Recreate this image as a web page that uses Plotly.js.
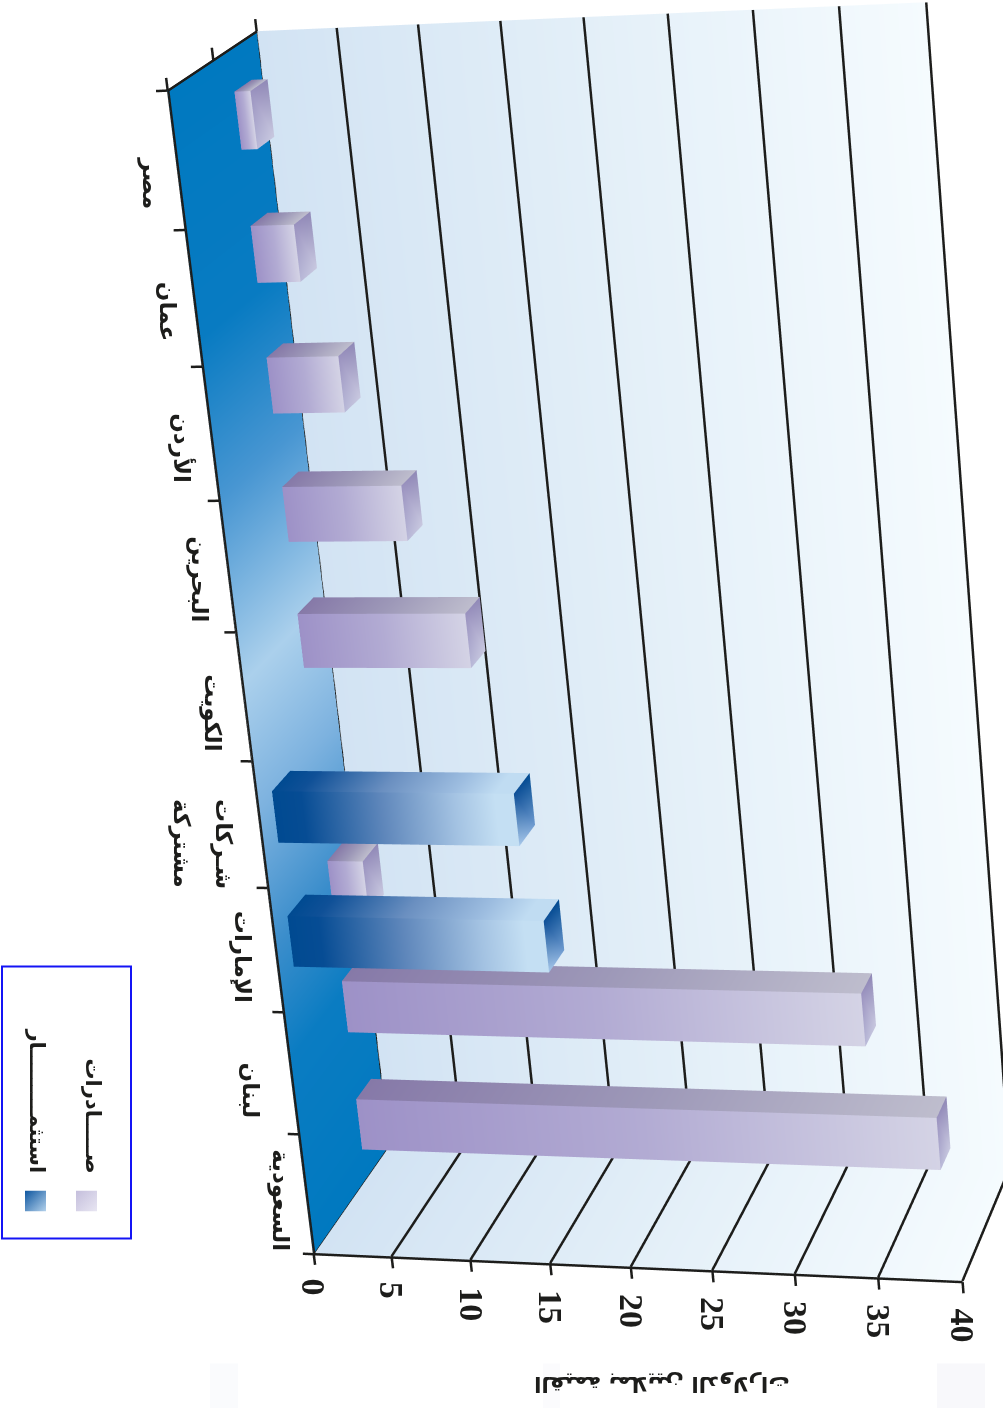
<!DOCTYPE html>
<html lang="ar">
<head>
<meta charset="utf-8">
<script src="https://cdn.plot.ly/plotly-3.0.1.min.js"></script>
<style>
html,body{margin:0;padding:0;width:1003px;height:1408px;overflow:hidden;background:#fff}
#chart{position:absolute;left:-114px;top:-1285.5px;width:1118px;height:3855px}
</style>
</head>
<body>
<div id="chart"></div>
<script>
// ---------- data ----------
const categories = ['مصر','عمان','الأردن','البحرين','الكويت','شـركات<br>مشتركة','الإمارات','لبنان','السعودية'];
const exportsValues = [1.0, 2.7, 4.5, 7.5, 10.6, 0, 2.3, 32.8, 36.8];   // صادرات
const investValues  = [0, 0, 0, 0, 0, 15.0, 16.0, 0, 0];                // استثمار
const valueTicks = [0,5,10,15,20,25,30,35,40];
const seriesNames = ['صـــــادرات','استثمـــــــــار'];
const axisTitle = 'القيمة بملايين الدولارات';

// ---------- styles ----------
const purpleFront = [[0,'#9d91c7'],[0.5,'#b2abd3'],[1,'#d4d3e5']];
const purpleSide  = [[0,'#8679a8'],[0.5,'#9d98b8'],[1,'#bebdcd']];
const blueFront   = [[0,'#004a91'],[0.12,'#064c94'],[0.45,'#5f87bb'],[0.75,'#a3c2e2'],[0.92,'#c4dff3'],[1,'#c4dff3']];
const blueSide    = [[0,'#004a91'],[0.12,'#0f5097'],[0.45,'#6a8fc0'],[0.75,'#9dbde0'],[0.92,'#c0dcf2'],[1,'#c0dcf2']];
const wallStops   = [[0,'#d2e3f3'],[0.5,'#e3eff8'],[1,'#f5fbfe']];
const floorStops  = [[0,'#0079c0'],[1.8,'#087bc2'],[3,'#4896d2'],[4.4,'#abd0ec'],[5.4,'#7db2df'],[6.5,'#3a8dcb'],[7.4,'#0a7cc2'],[9,'#0079c0']];
const fontAr = '"DejaVu Sans", "Noto Sans", sans-serif';
const fontNum = '"Liberation Serif", serif';
const ink = '#1d1d1b';

// scene geometry
const nCat = categories.length, zMax = 40;
const pxX = 1304/9, pxY = 274, pxZ = 723/40;
const rangeX=[-0.14,9.14], rangeY=[-0.03,1.03], rangeZ=[-1,41];
const purpleRow=[0.68,0.88], blueRow=[0.17,0.39];
const purpleSlot=[0.31,0.74], blueSlot=[0.36,0.77];
const labelNudge=[[4,-11],[5,-2],[2,-3],[2,-2],[-1,-5],[-28,-8],[-3,5],[-10,-6],[4,5]];

// ---------- helpers ----------
function hex(c){return [1,3,5].map(i=>parseInt(c.substr(i,2),16));}
function toHex(a){return '#'+a.map(v=>Math.round(v).toString(16).padStart(2,'0')).join('');}
function lerpCol(stops,t){
  if(t<=stops[0][0]) return stops[0][1];
  for(let i=1;i<stops.length;i++){
    if(t<=stops[i][0]){
      const a=stops[i-1],b=stops[i],u=(t-a[0])/(b[0]-a[0]),A=hex(a[1]),B=hex(b[1]);
      return toHex(A.map((v,k)=>v+(B[k]-v)*u));
    }
  }
  return stops[stops.length-1][1];
}
function newMesh(){return {type:'mesh3d',x:[],y:[],z:[],i:[],j:[],k:[],vertexcolor:[],flatshading:true,
  lighting:{ambient:1,diffuse:0,specular:0,roughness:1,fresnel:0},hoverinfo:'skip',showscale:false};}
function quad(m,p,c){
  const n=m.x.length;
  p.forEach((q,idx)=>{m.x.push(q[0]);m.y.push(q[1]);m.z.push(q[2]);m.vertexcolor.push(c[idx]);});
  m.i.push(n,n);m.j.push(n+1,n+2);m.k.push(n+2,n+3);
}
function bar(m,x0,x1,y0,y1,v,front,side,capCols){
  const ts=front.map(s=>s[0]);
  side.forEach(s=>{if(!ts.includes(s[0]))ts.push(s[0]);});
  ts.sort((a,b)=>a-b);
  for(let n=1;n<ts.length;n++){
    const a=ts[n-1],b=ts[n],za=a*v,zb=b*v;
    quad(m,[[x0,y0,za],[x1,y0,za],[x1,y0,zb],[x0,y0,zb]],[lerpCol(front,a),lerpCol(front,a),lerpCol(front,b),lerpCol(front,b)]);
    quad(m,[[x0,y0,za],[x0,y1,za],[x0,y1,zb],[x0,y0,zb]],[lerpCol(side,a),lerpCol(side,a),lerpCol(side,b),lerpCol(side,b)]);
  }
  quad(m,[[x0,y0,v],[x1,y0,v],[x1,y1,v],[x0,y1,v]],capCols);
}

// ---------- traces ----------
const traces=[];
const walls=newMesh();
wallStops.forEach((s,n)=>{ if(n===0) return;
  const a=wallStops[n-1], za=a[0]*zMax, zb=s[0]*zMax;
  quad(walls,[[0,1,za],[nCat,1,za],[nCat,1,zb],[0,1,zb]],[a[1],a[1],s[1],s[1]]);
  quad(walls,[[nCat,1,za],[nCat,0,za],[nCat,0,zb],[nCat,1,zb]],[a[1],a[1],s[1],s[1]]);
});
floorStops.forEach((s,n)=>{ if(n===0) return;
  const a=floorStops[n-1];
  quad(walls,[[a[0],0,0],[s[0],0,0],[s[0],1,0],[a[0],1,0]],[a[1],s[1],s[1],a[1]]);
});
traces.push(walls);
const bars=newMesh();
exportsValues.forEach((v,i)=>{ if(v>0)
  bar(bars,i+purpleSlot[0],i+purpleSlot[1],purpleRow[0],purpleRow[1],v,purpleFront,purpleSide,
      ['#9a92bf','#b9b9d8','#c9c9e0','#8f88b6']);
});
investValues.forEach((v,i)=>{ if(v>0)
  bar(bars,i+blueSlot[0],i+blueSlot[1],blueRow[0],blueRow[1],v,blueFront,blueSide,
      ['#0f5098','#a8c8ea','#6e9bd0','#004a91']);
});
traces.push(bars);
const lx=[],ly=[],lz=[];
function seg(a,b){lx.push(a[0],b[0],null);ly.push(a[1],b[1],null);lz.push(a[2],b[2],null);}
const eps=0.004;
valueTicks.forEach(v=>{
  if(v>0){
    seg([0,1-eps,v],[nCat,1-eps,v]);
    seg([nCat-0.01,1,v],[nCat-0.01,0,v]);
  }
  seg([nCat,0,v],[nCat+0.09,0,v]);
});
seg([0,0,0.03],[nCat,0,0.03]);
seg([0,1,0.03],[nCat,1,0.03]);
seg([0,0,0.03],[0,1,0.03]);
seg([nCat,0,0.03],[nCat,1,0.03]);
seg([nCat,0,0],[nCat,0,zMax]);
for(let i=0;i<=nCat;i++) seg([i,0,0],[i,0,-0.7]);
[0,0.5,1].forEach(d=>seg([0,d,0],[-0.09,d,0]));
traces.push({type:'scatter3d',mode:'lines',x:lx,y:ly,z:lz,line:{color:ink,width:5},hoverinfo:'skip',showlegend:false,connectgaps:false});

// ---------- camera, from vanishing points ----------
const up=[-0.9418,0.3362,0];
const fwd=[0.3197,0.8957,-0.309];
const dist=4.917;
const target=[-0.027,-0.0415,-0.165];
const cen=[(rangeX[0]+rangeX[1])/2-nCat/2,(rangeY[0]+rangeY[1])/2-0.5,(rangeZ[0]+rangeZ[1])/2-zMax/2];
const scales=[pxX/1000,pxY/1000,pxZ/1000];
const off=cen.map((c,n)=>c*scales[n]);
const tgt=target.map((t,n)=>t-off[n]);
const eye=tgt.map((t,n)=>t-dist*fwd[n]);
const P=a=>({x:a[0],y:a[1],z:a[2]});

// ---------- scene annotations ----------
const sceneAnn=[];
categories.forEach((c,i)=>{
  const lines=c.split('<br>');
  lines.forEach((t,k)=>sceneAnn.push({x:i+0.5,y:0,z:0,text:t,textangle:90,showarrow:false,
    xshift:-30+labelNudge[i][0]+(lines.length>1?(0.5-k)*42:0),yshift:-11+labelNudge[i][1],
    font:{family:fontAr,size:23,color:ink,weight:700}}));
});
valueTicks.forEach(v=>sceneAnn.push({x:nCat,y:0,z:v,text:String(v),textangle:90,showarrow:false,
  xshift:0,yshift:-23-10*String(v).length,font:{family:fontNum,size:34,color:ink,weight:700}}));
sceneAnn.push({x:nCat,y:0,z:zMax/2,text:axisTitle,textangle:180,showarrow:false,
  xshift:31,yshift:-116,font:{family:fontAr,size:21.5,color:ink,weight:700}});

// ---------- page-level legend ----------
const W=1118,H=3855,L=-114,T=-1285.5;
const px=x=>(x-L)/W, py=y=>1-(y-T)/H;
const swatch=(a,b)=>'data:image/svg+xml,'+encodeURIComponent(
 `<svg xmlns="http://www.w3.org/2000/svg" width="21" height="21"><defs><linearGradient id="g" x1="0" y1="0" x2="1" y2="1"><stop offset="0" stop-color="${a}"/><stop offset="1" stop-color="${b}"/></linearGradient></defs><rect width="21" height="21" fill="url(#g)"/></svg>`);
const smudge=(a,b,c)=>({type:'rect',xref:'paper',yref:'paper',layer:'below',x0:px(a),x1:px(b),y0:py(1363),y1:py(1408),line:{width:0},fillcolor:c});

const layout={
  width:W,height:H,margin:{l:0,r:0,t:0,b:0,pad:0},paper_bgcolor:'rgba(0,0,0,0)',showlegend:false,
  scene:{domain:{x:[0,1],y:[0,1]},bgcolor:'rgba(0,0,0,0)',
    xaxis:{visible:false,range:rangeX},yaxis:{visible:false,range:rangeY},zaxis:{visible:false,range:rangeZ},
    aspectmode:'manual',
    aspectratio:{x:(rangeX[1]-rangeX[0])*scales[0],y:(rangeY[1]-rangeY[0])*scales[1],z:(rangeZ[1]-rangeZ[0])*scales[2]},
    camera:{eye:P(eye),center:P(tgt),up:P(up),projection:{type:'perspective'}},
    annotations:sceneAnn},
  shapes:[
    smudge(210,238,'#fafbfd'),smudge(543,560,'#fbfbfd'),smudge(937,985,'#f8f8fb'),
    {type:'rect',xref:'paper',yref:'paper',x0:px(2),x1:px(131),y0:py(966),y1:py(1238),line:{color:'#1414f5',width:2},fillcolor:'rgba(0,0,0,0)'}],
  images:[
    {source:swatch('#c4bedc','#e8e6f2'),xref:'paper',yref:'paper',x:px(76),y:py(1190),sizex:21/W,sizey:21/H,sizing:'stretch',xanchor:'left',yanchor:'top',layer:'above'},
    {source:swatch('#0d559f','#b4d2ec'),xref:'paper',yref:'paper',x:px(25),y:py(1190),sizex:21/W,sizey:21/H,sizing:'stretch',xanchor:'left',yanchor:'top',layer:'above'}
  ],
  annotations:[
    {xref:'paper',yref:'paper',x:px(79),y:py(1115),text:seriesNames[0],textangle:90,showarrow:false,font:{family:fontAr,size:21,color:ink,weight:700}},
    {xref:'paper',yref:'paper',x:px(23),y:py(1100),text:seriesNames[1],textangle:90,showarrow:false,font:{family:fontAr,size:21,color:ink,weight:700}}
  ]
};
Plotly.newPlot('chart',traces,layout,{displayModeBar:false,responsive:false});
</script>
</body>
</html>
